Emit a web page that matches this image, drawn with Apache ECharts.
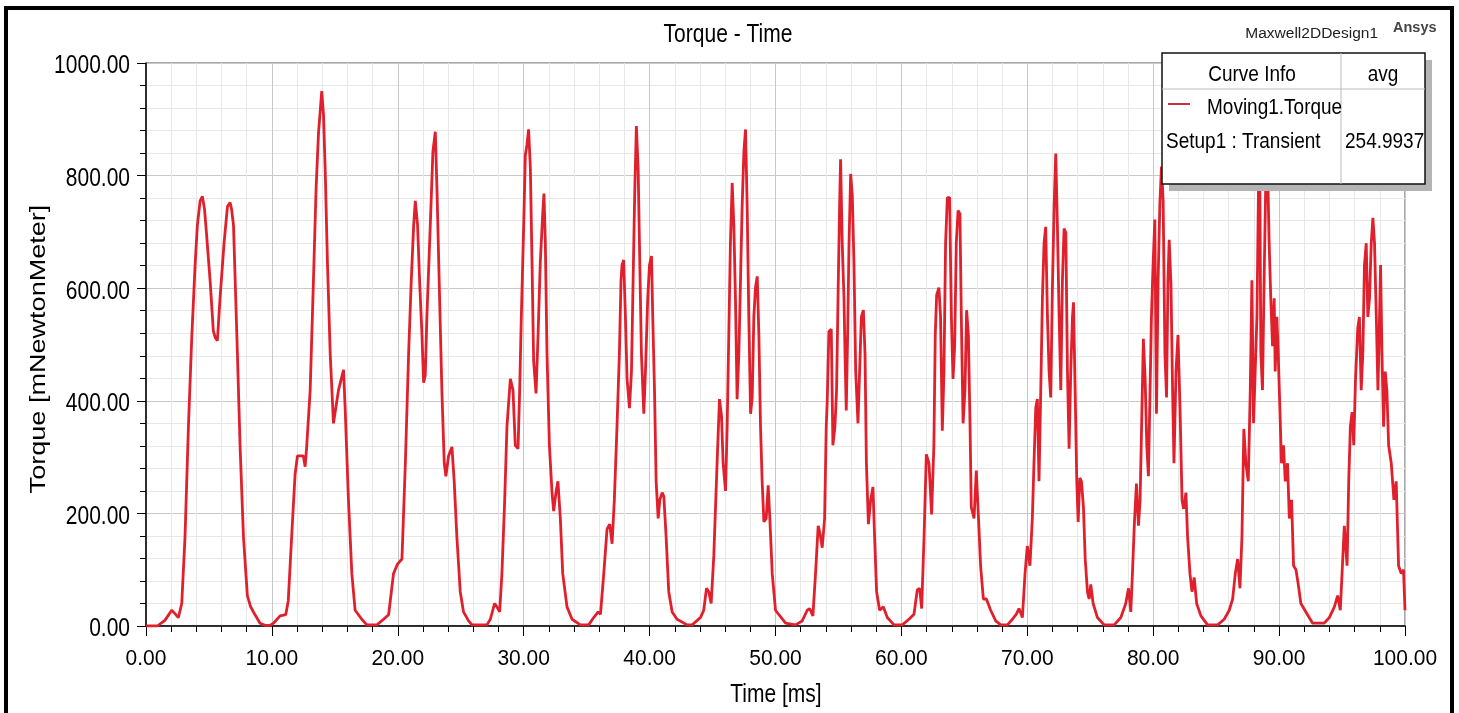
<!DOCTYPE html>
<html>
<head>
<meta charset="utf-8">
<title>Torque - Time</title>
<script src="https://cdn.jsdelivr.net/npm/echarts@6/dist/echarts.min.js"></script>
<style>
html, body { margin: 0; padding: 0; background: #fff; }
#chart { width: 1459px; height: 713px; }
</style>
</head>
<body>
<div id="chart"></div>
<script>
// time in ms, torque in mNewtonMeter
var timeMs = [
  0, 0.9, 1.5, 2.04, 2.3, 2.57, 2.84, 3.1, 3.37, 3.63, 3.9, 4.08, 4.3, 4.48, 4.65, 4.82, 5.09, 5.35, 5.5, 5.67,
  5.88, 6.2, 6.47, 6.68, 6.8, 6.95, 7.26, 7.47, 7.74, 8.05, 8.3, 8.53, 9.06, 9.5, 9.86, 10.12, 10.65, 11.1, 11.3, 11.57,
  11.84, 12.03, 12.5, 12.64, 12.77, 13.04, 13.3, 13.51, 13.7, 13.96, 14.1, 14.23, 14.41, 14.63, 14.89, 15.02, 15.29, 15.69, 15.82, 16.08,
  16.35, 16.61, 17.14, 17.54, 18.34, 18.87, 19.27, 19.66, 19.98, 20.33, 20.6, 20.86, 21.07, 21.26, 21.39, 21.57, 21.73, 21.92, 22.05, 22.18,
  22.31, 22.58, 22.79, 22.98, 23.11, 23.32, 23.5, 23.69, 23.82, 24.03, 24.3, 24.48, 24.69, 24.96, 25.22, 25.62, 25.9, 27.08, 27.35, 27.69,
  27.87, 28.09, 28.27, 28.49, 28.67, 28.94, 29.15, 29.33, 29.55, 29.68, 29.81, 30.0, 30.13, 30.26, 30.39, 30.53, 30.66, 30.79, 30.98, 31.14,
  31.32, 31.51, 31.61, 31.72, 31.85, 32.04, 32.25, 32.38, 32.56, 32.72, 32.91, 33.1, 33.44, 33.84, 34.5, 35.16, 35.56, 35.91, 36.1, 36.36,
  36.62, 36.83, 37.02, 37.2, 37.41, 37.6, 37.73, 37.81, 37.94, 38.08, 38.21, 38.4, 38.56, 38.69, 38.82, 38.95, 39.09, 39.22, 39.35, 39.54,
  39.67, 39.85, 39.99, 40.15, 40.25, 40.39, 40.52, 40.68, 40.81, 41.0, 41.13, 41.31, 41.52, 41.79, 42.18, 42.98, 43.38, 44.04, 44.3, 44.52,
  44.7, 44.89, 45.1, 45.36, 45.55, 45.71, 45.84, 46.03, 46.16, 46.29, 46.42, 46.56, 46.69, 46.82, 46.95, 47.09, 47.22, 47.35, 47.49, 47.62,
  47.75, 47.88, 48.02, 48.15, 48.28, 48.41, 48.55, 48.68, 48.81, 48.94, 49.08, 49.26, 49.42, 49.55, 49.74, 50.0, 50.27, 50.8, 51.59, 52.12,
  52.52, 52.71, 52.97, 53.18, 53.39, 53.53, 53.71, 53.9, 54.03, 54.11, 54.24, 54.43, 54.56, 54.72, 54.85, 54.98, 55.09, 55.17, 55.3, 55.44,
  55.52, 55.62, 55.73, 55.84, 55.97, 56.1, 56.23, 56.37, 56.55, 56.68, 56.82, 56.98, 57.11, 57.22, 57.38, 57.56, 57.74, 57.87, 58.03, 58.27,
  58.56, 58.88, 59.41, 60.07, 60.6, 61.0, 61.26, 61.45, 61.61, 61.8, 61.98, 62.19, 62.4, 62.58, 62.69, 62.8, 62.98, 63.11, 63.25, 63.38,
  63.51, 63.65, 63.83, 63.97, 64.1, 64.23, 64.36, 64.5, 64.65, 64.76, 64.9, 65.05, 65.18, 65.32, 65.45, 65.55, 65.77, 65.95, 66.11, 66.29,
  66.51, 66.75, 67.09, 67.49, 67.89, 68.42, 68.82, 69.13, 69.34, 69.61, 69.82, 70.0, 70.21, 70.4, 70.53, 70.67, 70.8, 70.93, 71.07, 71.2,
  71.33, 71.46, 71.6, 71.73, 71.86, 71.99, 72.13, 72.26, 72.39, 72.53, 72.66, 72.79, 72.92, 73.06, 73.19, 73.32, 73.45, 73.59, 73.67, 73.8,
  73.93, 74.04, 74.17, 74.3, 74.46, 74.6, 74.78, 74.91, 75.04, 75.23, 75.57, 76.1, 76.9, 77.43, 77.82, 78.04, 78.22, 78.35, 78.51, 78.67,
  78.83, 78.96, 79.09, 79.22, 79.36, 79.49, 79.62, 79.75, 79.86, 79.99, 80.13, 80.26, 80.39, 80.53, 80.66, 80.79, 80.93, 81.06, 81.17, 81.27,
  81.41, 81.54, 81.65, 81.81, 81.97, 82.13, 82.29, 82.42, 82.6, 82.73, 82.92, 83.08, 83.26, 83.45, 83.79, 84.32, 85.12, 85.64, 86.04, 86.31,
  86.52, 86.71, 86.89, 87.05, 87.2, 87.36, 87.55, 87.71, 87.84, 87.97, 88.1, 88.24, 88.37, 88.45, 88.55, 88.68, 88.81, 88.95, 89.02, 89.1,
  89.21, 89.34, 89.48, 89.61, 89.69, 89.82, 89.93, 90.06, 90.19, 90.35, 90.49, 90.67, 90.81, 90.99, 91.15, 91.34, 91.52, 91.73, 92.13, 92.66,
  93.59, 93.99, 94.39, 94.65, 94.86, 95.0, 95.18, 95.4, 95.53, 95.66, 95.8, 95.93, 96.07, 96.25, 96.38, 96.52, 96.65, 96.78, 96.92, 97.05,
  97.18, 97.32, 97.45, 97.58, 97.72, 97.85, 97.93, 98.06, 98.17, 98.3, 98.43, 98.56, 98.7, 98.91, 99.12, 99.3, 99.49, 99.7, 99.88, 100.0
];
var torque = [
  0, 0, 10, 28, 22, 15, 40, 159, 354, 510, 641, 712, 755, 763, 740, 693, 614, 524, 512, 507,
  582, 680, 745, 752, 740, 712, 484, 321, 159, 54, 35, 25, 5, 1, 1, 5, 18, 20, 45, 159,
  269, 302, 302, 283, 321, 419, 614, 777, 875, 950, 907, 813, 647, 484, 360, 360, 419, 455, 386, 224,
  93, 28, 12, 2, 2, 12, 20, 93, 110, 119, 289, 484, 614, 712, 755, 712, 614, 517, 432, 445,
  549, 712, 843, 878, 777, 582, 419, 289, 266, 302, 318, 257, 159, 61, 25, 9, 2, 2, 12, 40,
  34, 25, 93, 224, 354, 439, 419, 321, 315, 419, 549, 712, 836, 855, 882, 813, 647, 471, 413, 517,
  647, 732, 768, 680, 484, 321, 237, 204, 237, 257, 191, 93, 34, 12, 2, 2, 15, 25, 21, 93,
  172, 181, 146, 224, 354, 484, 614, 641, 650, 549, 439, 387, 452, 614, 771, 888, 813, 647, 484, 377,
  452, 582, 641, 657, 549, 419, 257, 191, 224, 237, 230, 159, 61, 25, 12, 2, 2, 15, 28, 67,
  61, 40, 125, 289, 403, 374, 289, 240, 354, 517, 680, 787, 712, 582, 403, 484, 614, 745, 843, 882,
  745, 549, 377, 406, 549, 601, 621, 517, 354, 257, 185, 191, 250, 191, 93, 28, 20, 5, 2, 9,
  28, 31, 18, 93, 178, 165, 139, 191, 354, 400, 523, 527, 321, 354, 419, 601, 745, 829, 680, 582,
  484, 383, 517, 680, 803, 765, 647, 452, 360, 452, 549, 561, 484, 289, 181, 224, 247, 159, 61, 28,
  34, 15, 2, 2, 12, 21, 64, 67, 31, 159, 305, 289, 198, 321, 517, 588, 601, 549, 347, 452,
  680, 761, 761, 549, 439, 497, 680, 738, 732, 549, 360, 419, 561, 517, 360, 211, 191, 276, 198, 107,
  48, 48, 28, 9, 2, 2, 12, 21, 31, 15, 93, 142, 107, 191, 289, 387, 403, 257, 419, 582,
  680, 709, 549, 452, 406, 595, 745, 839, 712, 549, 419, 614, 706, 699, 452, 315, 452, 549, 575, 419,
  257, 185, 263, 257, 211, 119, 60, 48, 74, 40, 15, 2, 2, 15, 40, 67, 25, 93, 185, 253,
  178, 224, 367, 510, 439, 321, 266, 419, 549, 641, 722, 377, 614, 751, 816, 755, 484, 406, 614, 686,
  608, 419, 289, 452, 517, 387, 224, 208, 237, 159, 93, 61, 86, 40, 18, 2, 2, 12, 28, 48,
  93, 119, 67, 159, 350, 289, 257, 419, 614, 360, 452, 549, 790, 870, 484, 419, 614, 800, 890, 800,
  680, 582, 497, 582, 452, 549, 484, 387, 289, 321, 257, 289, 191, 224, 107, 100, 74, 40, 25, 5,
  5, 15, 34, 54, 28, 93, 178, 107, 257, 354, 380, 321, 439, 530, 549, 419, 484, 641, 680, 549,
  582, 680, 725, 680, 549, 419, 497, 641, 484, 354, 452, 419, 321, 289, 224, 257, 107, 93, 100, 28
];
var xTicks = [0, 10, 20, 30, 40, 50, 60, 70, 80, 90, 100];
var yTicks = [0, 200, 400, 600, 800, 1000];
var titleText = 'Torque - Time';
var xName = 'Time [ms]';
var yName = 'Torque [mNewtonMeter]';
var curveName = 'Moving1.Torque';
var setupName = 'Setup1 : Transient';
var avgValue = '254.9937';

var chart = echarts.init(document.getElementById('chart'));
var font = "Arial,'Liberation Sans',sans-serif";

// the source picture is a bit taller than wide, so texts get a small vertical stretch
function label(text, x, y, size, align, sy, extra) {
  var el = {
    type: 'text', x: x, y: y, scaleY: sy || 1, z: 30,
    style: { text: text, fill: '#000', font: size + 'px ' + font, textAlign: align, textVerticalAlign: 'middle' }
  };
  if (extra) { for (var k in extra) el[k] = extra[k]; }
  return el;
}

var option = {
  animation: false,
  backgroundColor: '#fff',
  grid: {
    left: 146, right: 54, top: 63, bottom: 87,
    show: true, borderColor: '#555', borderWidth: 1
  },
  xAxis: {
    type: 'value', min: xTicks[0], max: xTicks[xTicks.length - 1], interval: 10,
    axisLine: { lineStyle: { color: '#000', width: 1.5 } },
    axisTick: { show: true, inside: false, length: 10, lineStyle: { color: '#000' } },
    minorTick: { show: true, splitNumber: 5, length: 6, lineStyle: { color: '#000' } },
    splitLine: { show: true, lineStyle: { color: '#c8c8c8', width: 1 } },
    minorSplitLine: { show: true, lineStyle: { color: '#e8e8e8', width: 1 } },
    axisLabel: { show: false }
  },
  yAxis: {
    type: 'value', min: yTicks[0], max: yTicks[yTicks.length - 1], interval: 200,
    axisLine: { show: true, lineStyle: { color: '#000', width: 1.5 } },
    axisTick: { show: true, inside: false, length: 9, lineStyle: { color: '#000' } },
    minorTick: { show: true, splitNumber: 5, length: 6, lineStyle: { color: '#000' } },
    splitLine: { show: true, lineStyle: { color: '#c8c8c8', width: 1 } },
    minorSplitLine: { show: true, lineStyle: { color: '#e8e8e8', width: 1 } },
    axisLabel: { show: false }
  },
  series: [{
    name: curveName,
    type: 'line',
    showSymbol: false,
    data: timeMs.map(function (t, i) { return [t, torque[i]]; }),
    lineStyle: { color: '#e0202c', width: 2.8 },
    z: 3
  }]
};
chart.setOption(option);

// tick labels placed through the axes' own scales
var graphics = [];
xTicks.forEach(function (v) {
  var p = chart.convertToPixel({ gridIndex: 0 }, [v, 0]);
  graphics.push(label(v.toFixed(2), p[0], p[1] + 33, 21, 'center', 1.08));
});
yTicks.forEach(function (v) {
  var p = chart.convertToPixel({ gridIndex: 0 }, [0, v]);
  graphics.push(label(v.toFixed(2), p[0] - 16, p[1] + 3, 21, 'right', 1.27));
});

graphics.push(
  // outer frame
  { type: 'rect', shape: { x: 6, y: 8, width: 1446, height: 720 },
    style: { fill: 'none', stroke: '#000', lineWidth: 4 }, z: 10 },
  label(titleText, 728, 35, 21, 'center', 1.2),
  label(xName, 776, 695, 21, 'center', 1.2),
  label(yName, 39, 349, 22, 'center', 1, { rotation: Math.PI / 2, scaleX: 1.23 }),
  { type: 'text', x: 1378, y: 34, z: 30,
    style: { text: 'Maxwell2DDesign1', fill: '#222', font: '15.5px ' + font, textAlign: 'right', textVerticalAlign: 'middle' } },
  { type: 'text', x: 1393, y: 28, z: 30,
    style: { text: 'Ansys', fill: '#444', font: 'bold 14.5px ' + font, textAlign: 'left', textVerticalAlign: 'middle' } },
  // legend box ("Curve Info")
  { type: 'rect', shape: { x: 1169, y: 60, width: 263, height: 131 },
    style: { fill: '#b4b4b4' }, z: 20 },
  { type: 'rect', shape: { x: 1162, y: 53, width: 263, height: 131 },
    style: { fill: '#fff', stroke: '#111', lineWidth: 1.5 }, z: 21 },
  { type: 'line', shape: { x1: 1162, y1: 89, x2: 1425, y2: 89 },
    style: { stroke: '#bbb', lineWidth: 1 }, z: 22 },
  { type: 'line', shape: { x1: 1341, y1: 53, x2: 1341, y2: 184 },
    style: { stroke: '#bbb', lineWidth: 1 }, z: 22 },
  label('Curve Info', 1252, 75, 19, 'center', 1.14),
  label('avg', 1383, 75, 19, 'center', 1.14),
  { type: 'line', shape: { x1: 1168, y1: 104, x2: 1190, y2: 104 },
    style: { stroke: '#c8323c', lineWidth: 2 }, z: 22 },
  label(curveName, 1207, 108, 19, 'left', 1.14),
  label(setupName, 1166, 142, 19, 'left', 1.14),
  label(avgValue, 1345, 142, 19, 'left', 1.14)
);
chart.setOption({ graphic: graphics });
window.addEventListener('resize', function () { chart.resize(); });
</script>
</body>
</html>
